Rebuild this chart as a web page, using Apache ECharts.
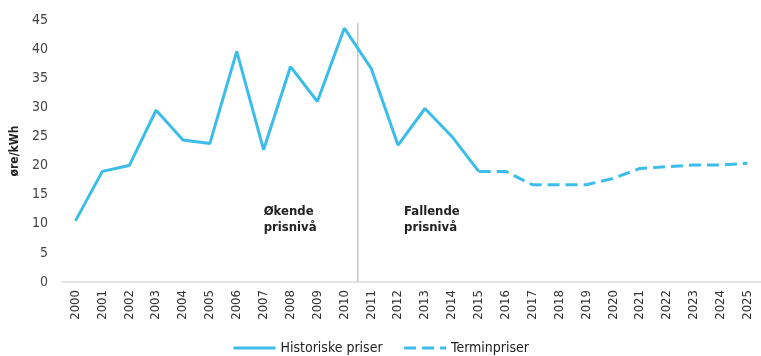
<!DOCTYPE html>
<html>
<head>
<meta charset="utf-8">
<script src="https://cdn.jsdelivr.net/npm/echarts@6/dist/echarts.min.js"></script>
<style>
  html, body { margin: 0; padding: 0; background: #fff; }
  #chart { width: 761px; height: 356px; }
</style>
</head>
<body>
<div id="chart"></div>
<script>
// år på x-aksen
const years = [
  "2000", "2001", "2002", "2003", "2004", "2005", "2006", "2007", "2008",
  "2009", "2010", "2011", "2012", "2013", "2014", "2015", "2016", "2017",
  "2018", "2019", "2020", "2021", "2022", "2023", "2024", "2025",
];
// historiske priser (øre/kWh), 2000-2015
const historiske = [
  10.5, 19, 20, 29.5, 24.4, 23.8, 39.6, 22.7, 37, 31, 43.6, 36.7, 23.5, 29.8,
  25, 19,
];
// terminpriser, 2015-2025
const termin = [19, 19, 16.7, 16.7, 16.7, 17.8, 19.5, 19.8, 20.1, 20.1, 20.4];

const lineColor = "#3cbde9";
const font = "'DejaVu Sans Condensed', 'Liberation Sans Narrow', sans-serif";

const histData = years.map((y, i) => (i < historiske.length ? historiske[i] : "-"));
const terminData = years.map((y, i) =>
  i >= 15 && i - 15 < termin.length ? termin[i - 15] : "-"
);

const chart = echarts.init(document.getElementById("chart"));

const option = {
  animation: false,
  textStyle: { fontFamily: font },
  grid: { left: 62, top: 20, width: 703, height: 262 },
  legend: {
    bottom: 1,
    padding: 0,
    left: "center",
    itemWidth: 42,
    itemHeight: 10,
    itemGap: 20,
    itemStyle: { opacity: 0 },
    lineStyle: { width: 3 },
    textStyle: { fontSize: 14, color: "#222", fontFamily: font },
    data: ["Historiske priser", "Terminpriser"],
  },
  xAxis: {
    type: "category",
    data: years,
    boundaryGap: true,
    axisLine: { lineStyle: { color: "#dcdcdc", width: 1.5 } },
    axisTick: { show: false },
    axisLabel: {
      rotate: 90,
      interval: 0,
      margin: 8,
      fontSize: 13,
      color: "#333",
      fontFamily: font,
    },
  },
  yAxis: {
    type: "value",
    min: 0,
    max: 45,
    interval: 5,
    name: "øre/kWh",
    nameLocation: "middle",
    nameGap: 40,
    nameTextStyle: { fontSize: 12, fontWeight: "bold", color: "#222", fontFamily: font },
    axisLine: { show: false },
    axisTick: { show: false },
    splitLine: { show: false },
    axisLabel: { fontSize: 14, color: "#444", margin: 14, fontFamily: font },
  },
  series: [
    {
      name: "Historiske priser",
      type: "line",
      data: histData,
      showSymbol: false,
      symbol: "none",
      color: lineColor,
      lineStyle: { color: lineColor, width: 3 },
    },
    {
      name: "Terminpriser",
      type: "line",
      data: terminData,
      showSymbol: false,
      symbol: "none",
      color: lineColor,
      lineStyle: { color: lineColor, width: 3, type: [12, 6] },
    },
  ],
};

chart.setOption(option);

// skillelinje og tekst plassert via aksene
const p2010 = chart.convertToPixel({ xAxisIndex: 0 }, "2010");
const p2011 = chart.convertToPixel({ xAxisIndex: 0 }, "2011");
const lineX = (p2010 + p2011) / 2;
const yTop = chart.convertToPixel({ yAxisIndex: 0 }, 45);
const yBottom = chart.convertToPixel({ yAxisIndex: 0 }, 0);
const labelY = chart.convertToPixel({ yAxisIndex: 0 }, 13.5);
const leftTextX = chart.convertToPixel({ xAxisIndex: 0 }, "2007");
const rightTextX = chart.convertToPixel({ xAxisIndex: 0 }, "2012") + 6;

chart.setOption({
  graphic: [
    {
      type: "line",
      shape: { x1: lineX, y1: yTop + 3, x2: lineX, y2: yBottom },
      style: { stroke: "#c4c4c4", lineWidth: 1.5 },
      z: 1,
    },
    {
      type: "text",
      x: leftTextX,
      y: labelY,
      style: {
        text: "Økende\nprisnivå",
        font: "bold 13px " + font,
        fill: "#222",
        lineHeight: 16,
      },
    },
    {
      type: "text",
      x: rightTextX,
      y: labelY,
      style: {
        text: "Fallende\nprisnivå",
        font: "bold 13px " + font,
        fill: "#222",
        lineHeight: 16,
      },
    },
  ],
});
</script>
</body>
</html>
